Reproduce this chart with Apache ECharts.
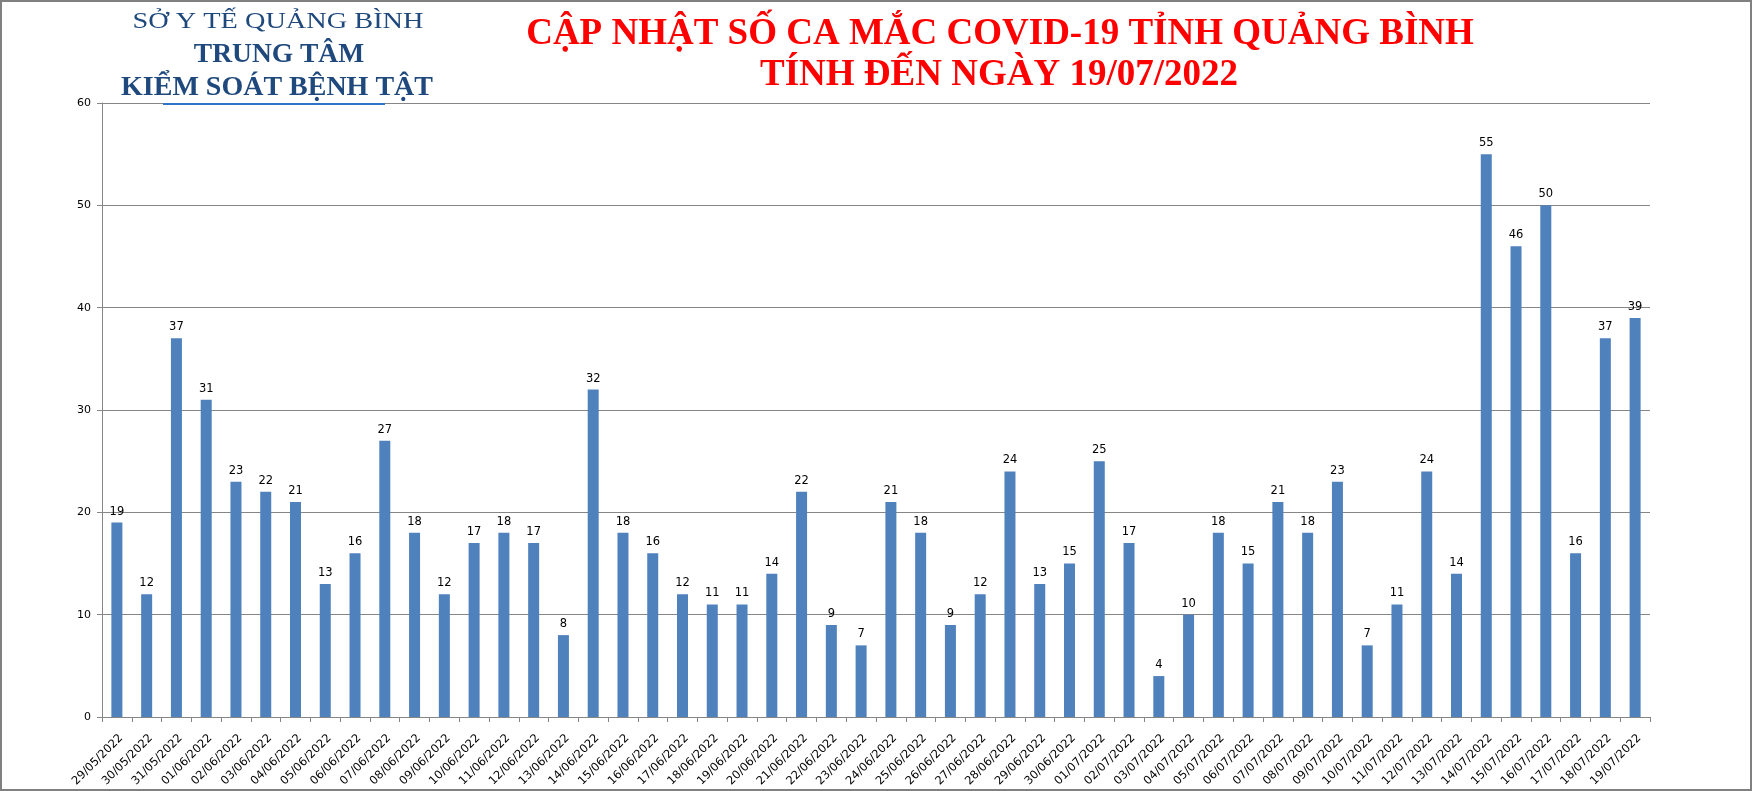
<!DOCTYPE html>
<html>
<head>
<meta charset="utf-8">
<script src="https://cdn.jsdelivr.net/npm/echarts@6/dist/echarts.min.js"></script>
<style>
  html, body { margin: 0; padding: 0; background: #fff; }
  #chart { width: 1752px; height: 791px; }
</style>
</head>
<body>
<div id="chart"></div>
<script>
const categories = [
  '29/05/2022','30/05/2022','31/05/2022',
  '01/06/2022','02/06/2022','03/06/2022','04/06/2022','05/06/2022','06/06/2022','07/06/2022','08/06/2022','09/06/2022','10/06/2022',
  '11/06/2022','12/06/2022','13/06/2022','14/06/2022','15/06/2022','16/06/2022','17/06/2022','18/06/2022','19/06/2022','20/06/2022',
  '21/06/2022','22/06/2022','23/06/2022','24/06/2022','25/06/2022','26/06/2022','27/06/2022','28/06/2022','29/06/2022','30/06/2022',
  '01/07/2022','02/07/2022','03/07/2022','04/07/2022','05/07/2022','06/07/2022','07/07/2022','08/07/2022','09/07/2022','10/07/2022',
  '11/07/2022','12/07/2022','13/07/2022','14/07/2022','15/07/2022','16/07/2022','17/07/2022','18/07/2022','19/07/2022'
];
const cases = [
  19, 12, 37,
  31, 23, 22, 21, 13, 16, 27, 18, 12, 17,
  18, 17, 8, 32, 18, 16, 12, 11, 11, 14,
  22, 9, 7, 21, 18, 9, 12, 24, 13, 15,
  25, 17, 4, 10, 18, 15, 21, 18, 23, 7,
  11, 24, 14, 55, 46, 50, 16, 37, 39
];
const yTicks = { min: 0, max: 60, interval: 10 };
const titleLines = ['CẬP NHẬT SỐ CA MẮC COVID-19 TỈNH QUẢNG BÌNH', 'TÍNH ĐẾN NGÀY 19/07/2022'];
const headerLines = ['SỞ Y TẾ QUẢNG BÌNH', 'TRUNG TÂM', 'KIỂM SOÁT BỆNH TẬT'];

const chart = echarts.init(document.getElementById('chart'), null, { renderer: 'canvas' });
const gray = '#868686';
const headerColor = '#1f497d';
const serif = '"Liberation Serif", "Times New Roman", serif';
const sans = '"DejaVu Sans", Verdana, sans-serif';

chart.setOption({
  backgroundColor: '#ffffff',
  animation: false,
  grid: { left: 102, right: 102, top: 103, bottom: 74 },
  xAxis: {
    type: 'category',
    data: categories,
    boundaryGap: true,
    axisLine: { show: true, lineStyle: { color: gray, width: 1 } },
    axisTick: { show: true, interval: 0, length: 5, lineStyle: { color: gray } },
    axisLabel: {
      interval: 0,
      rotate: 45,
      margin: 15,
      align: 'right',
      verticalAlign: 'top',
      color: '#000',
      fontFamily: sans,
      fontSize: 11.5
    },
    splitLine: { show: false }
  },
  yAxis: {
    type: 'value',
    min: yTicks.min,
    max: yTicks.max,
    interval: yTicks.interval,
    axisLine: { show: true, lineStyle: { color: gray, width: 1 } },
    axisTick: { show: true, length: 5, lineStyle: { color: gray } },
    axisLabel: { margin: 11, color: '#000', fontFamily: sans, fontSize: 11 },
    splitLine: { show: true, lineStyle: { color: gray, width: 1 } }
  },
  series: [{
    type: 'bar',
    data: cases,
    barWidth: 11,
    itemStyle: { color: '#4f81bd' },
    label: {
      show: true,
      position: 'top',
      distance: 5,
      color: '#000',
      fontFamily: sans,
      fontSize: 11.5
    }
  }],
  graphic: [
    {
      type: 'rect',
      shape: { x: 1, y: 1, width: 1750, height: 789 },
      style: { fill: 'none', stroke: '#808080', lineWidth: 2 },
      z: 100
    },
    {
      type: 'text', x: 1000, y: 34,
      style: { text: titleLines[0], fill: '#ff0000', font: 'bold 37px ' + serif, align: 'center', verticalAlign: 'middle' }
    },
    {
      type: 'text', x: 999, y: 75,
      style: { text: titleLines[1], fill: '#ff0000', font: 'bold 37px ' + serif, align: 'center', verticalAlign: 'middle' }
    },
    {
      type: 'text', x: 278, y: 22, scaleX: 1.18,
      style: { text: headerLines[0], fill: headerColor, font: '24px ' + serif, align: 'center', verticalAlign: 'middle' }
    },
    {
      type: 'text', x: 279, y: 55,
      style: { text: headerLines[1], fill: headerColor, font: 'bold 27.5px ' + serif, align: 'center', verticalAlign: 'middle' }
    },
    {
      type: 'text', x: 277, y: 87.5,
      style: { text: headerLines[2], fill: headerColor, font: 'bold 28px ' + serif, align: 'center', verticalAlign: 'middle' }
    },
    {
      type: 'line',
      shape: { x1: 163, y1: 104, x2: 385, y2: 104 },
      style: { stroke: '#2e75c6', lineWidth: 2 },
      z: 50
    }
  ]
});
</script>
</body>
</html>
